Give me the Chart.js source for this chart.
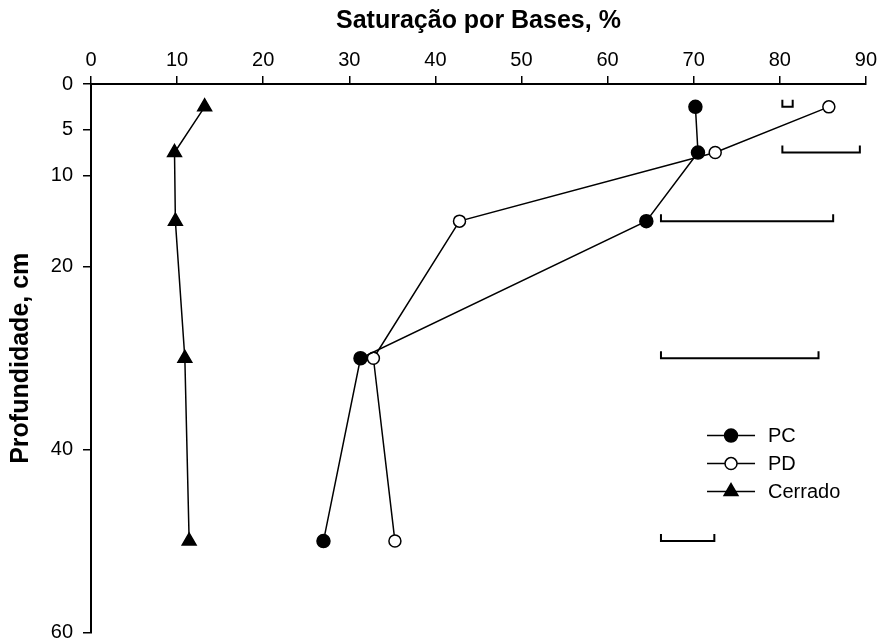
<!DOCTYPE html>
<html>
<head>
<meta charset="utf-8">
<script src="https://cdn.jsdelivr.net/npm/chart.js@4/dist/chart.umd.min.js"></script>
<style>
  body { margin: 0; background: #fff; }
</style>
</head>
<body>
<canvas id="chart" width="881" height="642"></canvas>
<script>
// depth (cm) of each sample layer
const depths = [2.5, 7.5, 15, 30, 50];
// base saturation (%) for each system
const pcValues = [70.2, 70.5, 64.5, 31.3, 27.0];
const pdValues = [85.7, 72.5, 42.8, 32.8, 35.3];
const cerradoValues = [13.2, 9.7, 9.8, 10.9, 11.4];
// DMS bars drawn at the right of each depth
const dmsFrom = [80.3, 80.3, 66.2, 66.2, 66.2];
const dmsTo = [81.5, 89.3, 86.2, 84.5, 72.4];
const yTicks = [0, 5, 10, 20, 40, 60];

const FONT = '"Liberation Sans", Arial, sans-serif';
Chart.defaults.font.family = FONT;
Chart.defaults.color = '#000';

const toPoints = vals => vals.map((v, i) => ({ x: v, y: depths[i] }));

const series = [
    { label: 'PC', data: pcValues, style: 'circle', radius: 6.5, fill: '#000' },
    { label: 'PD', data: pdValues, style: 'circle', radius: 6, fill: '#fff' },
    { label: 'Cerrado', data: cerradoValues, style: 'triangle', radius: 8, fill: '#000' }
];

// little bracket bars (lowest significant difference)
const dmsBars = {
    id: 'dmsBars',
    afterDatasetsDraw(chart) {
        const { ctx, scales: { x, y } } = chart;
        ctx.save();
        ctx.strokeStyle = '#000';
        ctx.lineWidth = 2;
        depths.forEach((d, i) => {
            const x1 = x.getPixelForValue(dmsFrom[i]);
            const x2 = x.getPixelForValue(dmsTo[i]);
            const py = y.getPixelForValue(d);
            ctx.beginPath();
            ctx.moveTo(x1, py - 7);
            ctx.lineTo(x1, py);
            ctx.lineTo(x2, py);
            ctx.lineTo(x2, py - 7);
            ctx.stroke();
        });
        ctx.restore();
    }
};

function marker(ctx, style, cx, cy, r, fill) {
    ctx.beginPath();
    if (style === 'triangle') {
        ctx.moveTo(cx, cy - r);
        ctx.lineTo(cx + r * 0.866, cy + r * 0.5);
        ctx.lineTo(cx - r * 0.866, cy + r * 0.5);
        ctx.closePath();
    } else {
        ctx.arc(cx, cy, r, 0, Math.PI * 2);
    }
    ctx.fillStyle = fill;
    ctx.fill();
    ctx.stroke();
}

// legend inside the plot, line + marker like the original
const boxLegend = {
    id: 'boxLegend',
    afterDraw(chart) {
        const { ctx, chartArea: ca } = chart;
        const lx = ca.left + ca.width * 0.795;
        const ly = ca.top + ca.height * 0.641;
        ctx.save();
        ctx.strokeStyle = '#000';
        ctx.lineWidth = 1.5;
        ctx.font = '20px ' + FONT;
        ctx.textBaseline = 'middle';
        series.forEach((s, i) => {
            const yy = ly + i * 28;
            ctx.beginPath();
            ctx.moveTo(lx, yy);
            ctx.lineTo(lx + 48, yy);
            ctx.stroke();
            marker(ctx, s.style, lx + 24, yy, s.radius, s.fill);
            ctx.fillStyle = '#000';
            ctx.fillText(s.label, lx + 61, yy + 1);
        });
        ctx.restore();
    }
};

const ctx = document.getElementById('chart').getContext('2d');
const chart = new Chart(ctx, {
    type: 'scatter',
    data: {
        datasets: series.map(s => ({
            label: s.label,
            data: toPoints(s.data),
            showLine: true,
            borderColor: '#000',
            borderWidth: 1.5,
            pointStyle: s.style,
            pointRadius: s.radius,
            pointBackgroundColor: s.fill,
            pointBorderColor: '#000',
            pointBorderWidth: 1.5
        }))
    },
    plugins: [dmsBars, boxLegend],
    options: {
        responsive: false,
        animation: false,
        layout: { padding: { left: 0, top: 0, right: 15, bottom: 9 } },
        plugins: {
            legend: { display: false },
            tooltip: { enabled: false }
        },
        scales: {
            x: {
                type: 'linear',
                position: 'top',
                min: 0,
                max: 90,
                ticks: { stepSize: 10, font: { size: 20 }, padding: 4, color: '#000' },
                grid: { drawOnChartArea: false, tickLength: 8, color: '#000', lineWidth: 1.5 },
                border: { color: '#000', width: 2 },
                title: {
                    display: true,
                    text: 'Saturação por Bases, %',
                    font: { size: 25, weight: 'bold' },
                    padding: { top: 6, bottom: 0 }
                },
                afterFit(scale) { scale.height = 84; }
            },
            y: {
                type: 'linear',
                reverse: true,
                min: 0,
                max: 60,
                afterBuildTicks(scale) {
                    scale.ticks = yTicks.map(v => ({ value: v }));
                },
                ticks: { font: { size: 20 }, padding: 10, color: '#000' },
                grid: { drawOnChartArea: false, tickLength: 8, color: '#000', lineWidth: 1.5 },
                border: { color: '#000', width: 2 },
                title: {
                    display: true,
                    text: 'Profundidade, cm',
                    font: { size: 25, weight: 'bold' },
                    padding: { top: 6, bottom: 0 }
                },
                afterFit(scale) {
                    scale.width = 91;
                    scale.paddingTop = 0;
                    scale.paddingBottom = 0;
                }
            }
        }
    }
});
</script>
</body>
</html>
